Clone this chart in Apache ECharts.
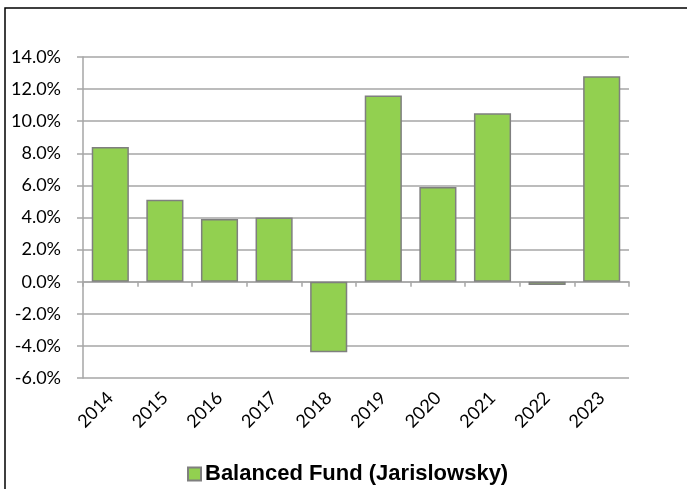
<!DOCTYPE html>
<html>
<head>
<meta charset="utf-8">
<script src="https://cdn.jsdelivr.net/npm/echarts@6/dist/echarts.min.js"></script>
<style>
  html, body { margin: 0; padding: 0; background: #fff; }
  #main { width: 687px; height: 489px; }
</style>
</head>
<body>
<div id="main"></div>
<script>
const years = ['2014', '2015', '2016', '2017', '2018', '2019', '2020', '2021', '2022', '2023']
const fundReturns = [8.4, 5.1, 3.9, 4.0, -4.4, 11.6, 5.9, 10.5, -0.2, 12.8]
const seriesName = 'Balanced Fund (Jarislowsky)'

const chart = echarts.init(document.getElementById('main'))

const gridColor = '#a6a6a6'
const labelFont = 'Lato, "Open Sans", sans-serif'

const option = {
  animation: false,
  backgroundColor: '#fff',
  graphic: [
    {
      type: 'polyline',
      shape: { points: [[5, 489], [5, 8], [687, 8]] },
      style: { stroke: '#000', lineWidth: 1.5, fill: null },
    },
  ],
  legend: {
    data: [seriesName],
    left: 182,
    top: 458,
    itemWidth: 13,
    itemHeight: 13,
    itemGap: 4,
    icon: 'rect',
    textStyle: {
      fontFamily: '"Liberation Sans", Arial, sans-serif',
      fontWeight: 'bold',
      fontSize: 22,
      color: '#000',
      padding: [0, 0, 0, -1],
    },
  },
  grid: {
    left: 83,
    right: 58,
    top: 57,
    bottom: 111,
  },
  xAxis: [
    {
      type: 'category',
      data: years,
      axisLine: { onZero: true, lineStyle: { color: gridColor, width: 1.5 } },
      axisTick: { show: true, length: 5, lineStyle: { color: gridColor, width: 1.5 } },
      axisLabel: { show: false },
    },
    {
      type: 'category',
      data: years,
      position: 'bottom',
      axisLine: { show: false, onZero: false },
      axisTick: { show: false },
      axisLabel: {
        rotate: 45,
        margin: 17,
        fontFamily: labelFont,
        fontSize: 18,
        color: '#000',
      },
    },
  ],
  yAxis: {
    type: 'value',
    min: -6,
    max: 14,
    interval: 2,
    axisLine: { show: true, lineStyle: { color: gridColor, width: 1.5 } },
    axisTick: { show: true, length: 6, lineStyle: { color: gridColor, width: 1.5 } },
    splitLine: { lineStyle: { color: gridColor, width: 1.5 } },
    axisLabel: {
      margin: 22,
      fontFamily: labelFont,
      fontSize: 18,
      color: '#000',
      formatter: (v) => v.toFixed(1) + '%',
    },
  },
  series: [
    {
      name: seriesName,
      type: 'bar',
      xAxisIndex: 0,
      data: fundReturns,
      barCategoryGap: '32%',
      itemStyle: {
        color: '#92d050',
        borderColor: '#7f7f7f',
        borderWidth: 1.5,
      },
    },
  ],
}

chart.setOption(option)
</script>
</body>
</html>
